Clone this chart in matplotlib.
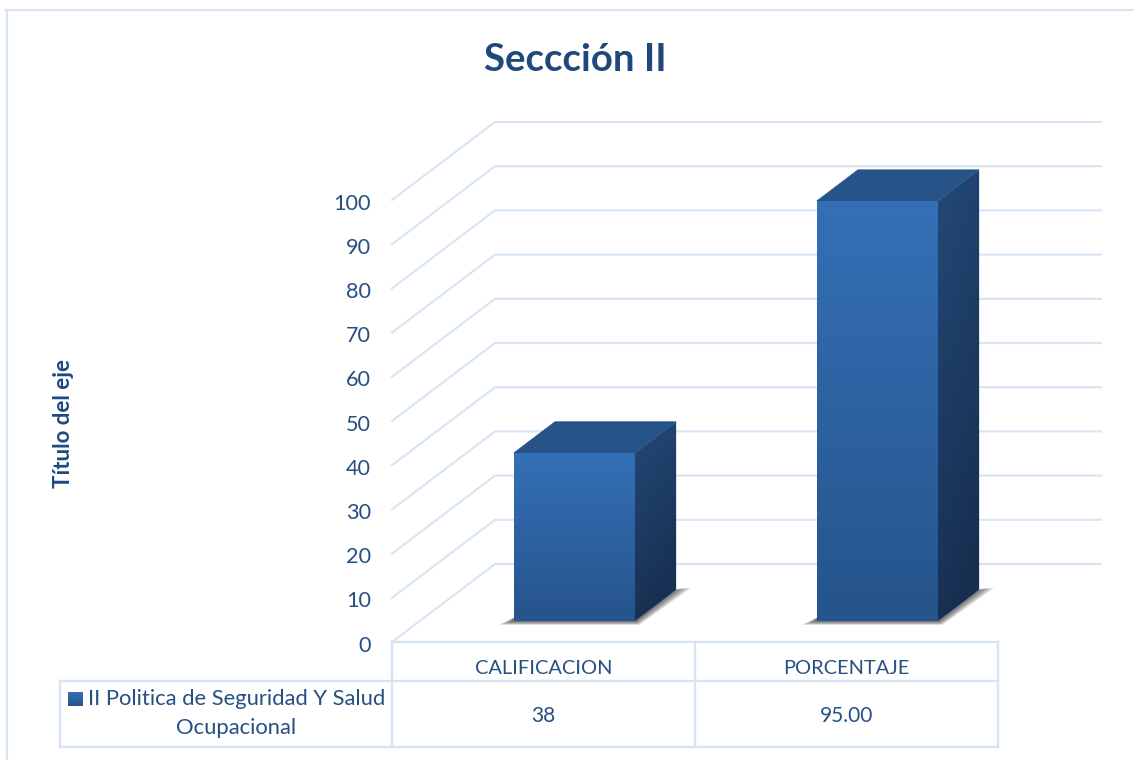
import numpy as np
import matplotlib
matplotlib.use("Agg")
import matplotlib.pyplot as plt
from matplotlib.colors import LinearSegmentedColormap
from matplotlib.patches import Polygon

categories = ["CALIFICACION", "PORCENTAJE"]
values = [38, 95]
value_labels = ["38", "95.00"]
yticks = [0, 10, 20, 30, 40, 50, 60, 70, 80, 90, 100]
series_name = ["II Politica de Seguridad Y Salud", "Ocupacional"]

txt_col = "#264F82"
line_col = "#D7E4F4"

# depth of the fake 3d box, in data units
DX = 103 / 303
DY = 78 / 4.42
BAR_W = 0.4
D0, D1 = 0.27, 0.67

plt.rcParams["font.family"] = ["Lato", "DejaVu Sans"]

W, H = 1134, 760
fig = plt.figure(figsize=(W / 100, H / 100), dpi=100)
ax = fig.add_axes([392 / W, 1 - 642 / H, 606 / W, 442 / H])
ax.set_xlim(0, 2)
ax.set_ylim(0, 100)
ax.axis("off")


def proj(x, v, d):
    return x + d * DX, v + d * DY


def grad_poly(pts, top, bottom, zorder, angle=False):
    # polygon filled with vertical gradient
    pts = np.array(pts)
    cmap = LinearSegmentedColormap.from_list("g", [top, bottom])
    ext = [pts[:, 0].min(), pts[:, 0].max(), pts[:, 1].min(), pts[:, 1].max()]
    grad = np.linspace(0, 1, 128).reshape(-1, 1)
    if angle:
        grad = grad + np.linspace(0, 0.25, 32).reshape(1, -1) - 0.1
    im = ax.imshow(grad, extent=ext, cmap=cmap, vmin=0, vmax=1, origin="upper",
                   aspect="auto", zorder=zorder)
    patch = Polygon(pts, closed=True, transform=ax.transData, fc="none", ec="none", clip_on=False)
    ax.add_patch(patch)
    im.set_clip_path(patch)
    im.set_clip_box(fig.bbox)  # top of the tall bar goes above the axes
    return im


# grid, back wall and slanted side wall
for t in yticks:
    x0, y0 = proj(0, t, 0)
    x1, y1 = proj(0, t, 1)
    x2, y2 = proj(2, t, 1)
    ax.plot([x0, x1, x2], [y0, y1, y2], color=line_col, lw=1.5, clip_on=False,
            solid_joinstyle="miter", zorder=1)
    ax.text(-21 / 303, t - 0.8, str(t), ha="right", va="center", fontsize=15.6, color=txt_col)

# bars
for i, v in enumerate(values):
    c = i + 0.51
    l, r = c - BAR_W / 2, c + BAR_W / 2
    fl, fb = proj(l, 0, D0)
    fr, _ = proj(r, 0, D0)
    ft = fb + v
    bl, bb = proj(l, 0, D1)
    br, _ = proj(r, 0, D1)
    bt = bb + v

    # shadow on the floor
    for k in np.linspace(1, 0.15, 9):
        sh = [(fl - 0.05 * k, fb - 0.9 * k), (fl, fb + 0.7), (fr, fb + 0.7), (br, bb),
              (br + 0.05 * k, bb + 0.4), (fr + 0.015 * k, fb - 0.9 * k)]
        ax.add_patch(Polygon(sh, closed=True, fc="#303030", ec="none", alpha=0.11, zorder=2,
                             clip_on=False))

    grad_poly([(fr, fb), (br, bb), (br, bt), (fr, ft)], "#234674", "#162F50", 3, angle=True)
    ax.add_patch(Polygon([(fl, ft), (bl, bt), (br, bt), (fr, ft)], closed=True,
                         fc="#265488", ec="#265488", lw=0.5, zorder=3, clip_on=False))
    grad_poly([(fl, fb), (fr, fb), (fr, ft), (fl, ft)], "#3470B6", "#26548C", 4)

ax.set_xlim(0, 2)
ax.set_ylim(0, 100)

# data table under the chart
row1 = -38.5 / 4.42
row2 = -105 / 4.42
left = -332 / 303
tk = dict(color="#D7E4F4", lw=1.7, clip_on=False, zorder=1, solid_capstyle="projecting")
ax.plot([0, 2], [0, 0], **tk)
ax.plot([left, 2], [row1, row1], **tk)
ax.plot([left, 2], [row2, row2], **tk)
ax.plot([left, left], [row1, row2], **tk)
for x in [0, 1, 2]:
    ax.plot([x, x], [0, row2], **tk)

for i, (cat, lab) in enumerate(zip(categories, value_labels)):
    ax.text(i + 0.5, row1 / 2 - 1.6, cat, ha="center", va="center", fontsize=14.4, color=txt_col)
    ax.text(i + 0.5, (row1 + row2) / 2 - 0.4, lab, ha="center", va="center", fontsize=15, color=txt_col)

# legend key and name
fig.text(237 / W, 1 - 699 / H, series_name[0], ha="center", va="center", fontsize=15.8, color=txt_col)
fig.text(236 / W, 1 - 728 / H, series_name[1], ha="center", va="center", fontsize=15.8, color=txt_col)
kx = fig.add_axes([68 / W, 1 - 706 / H, 15 / W, 14 / H])
kx.imshow(np.linspace(0, 1, 32).reshape(-1, 1), aspect="auto",
          cmap=LinearSegmentedColormap.from_list("k", ["#3470B6", "#26548C"]))
kx.axis("off")

# titles
fig.text(575 / W, 1 - 60 / H, "Seccción II", ha="center", va="center", fontsize=27.6,
         fontweight="bold", color="#1F497D")
fig.text(63 / W, 1 - 423 / H, "Título del eje", rotation=90, ha="center", va="center",
         fontsize=16, fontweight="bold", color="#1F497D")

# outer frame, only top and left show up
fig.add_artist(plt.Line2D([7 / W, 7 / W], [0, 1 - 10 / H], color=line_col, lw=1.6))
fig.add_artist(plt.Line2D([6 / W, 1], [1 - 10 / H, 1 - 10 / H], color=line_col, lw=1.6))

fig.savefig("out.png", dpi=100)
